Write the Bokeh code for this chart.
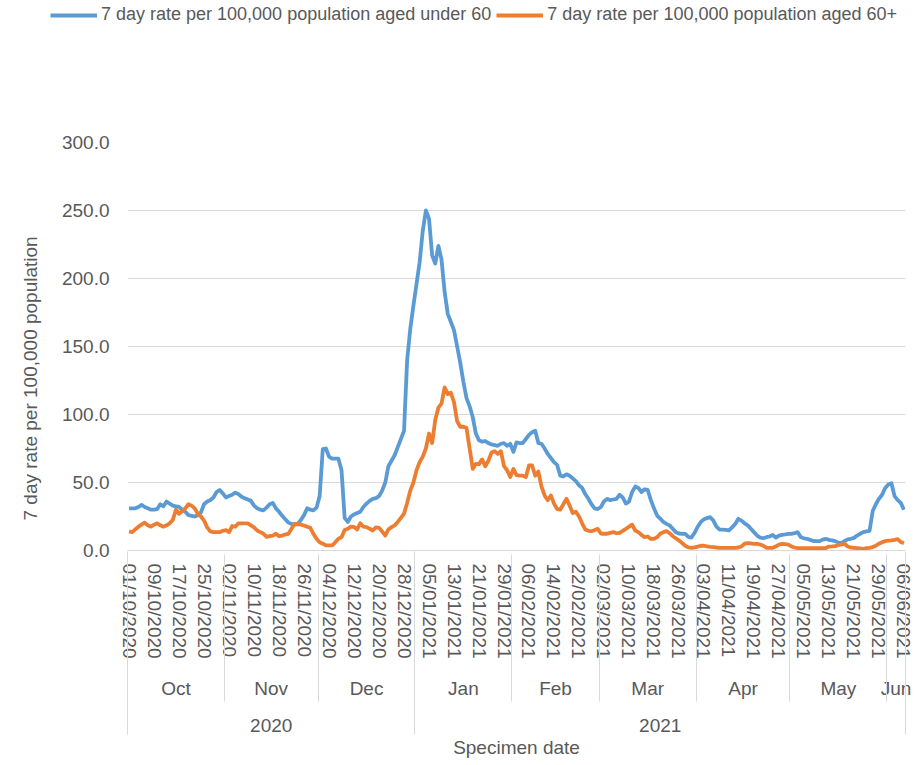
import numpy as np
from bokeh.plotting import figure
from bokeh.layouts import column
from bokeh.models import (Range1d, LinearAxis, FixedTicker, NumeralTickFormatter,
                          Legend, LegendItem, Title, Grid)
from bokeh.embed import file_html
from bokeh.resources import INLINE

# ---------------- data (daily, 01/10/2020 .. 06/06/2021) ----------------
under60 = [
    31, 31, 31, 32, 33.5, 32, 31, 30, 30, 30.5,
    34, 32.5, 36, 34.5, 33, 32.5, 32, 30, 28.5, 26,
    25.5, 25, 26, 28, 34, 36, 37, 39, 43, 44.5,
    42, 39, 40, 41, 42.5, 41.5, 39.5, 38.5, 37.5, 36.5,
    33, 31, 30, 29.5, 31.5, 34, 35, 31, 28.5, 25.5,
    23, 20.5, 19.5, 19, 19.5, 22.5, 26, 31, 30, 29.5,
    31.5, 40, 74.5, 75, 69, 67.5, 67.5, 67.5, 59, 24,
    21, 25, 26.5, 27.5, 28.5, 32, 34.5, 36.5, 38, 38.5,
    40, 44, 50, 62, 66, 70, 76, 82, 88, 140,
    163, 180, 196, 212, 235, 250, 244, 217, 211, 224,
    214, 190, 174, 168, 162, 150, 138, 124, 112, 106,
    98, 86, 81, 80, 80.5, 79, 78, 77.5, 77, 78.5,
    79, 77, 78.5, 72.5, 79.5, 79, 79, 82, 85, 87,
    88, 79, 78.5, 75, 71, 68, 65, 63, 55, 54.5,
    56, 55, 53, 51, 48, 46, 41.5, 38, 34, 31,
    30.5, 32, 36, 38, 37, 37.5, 38, 41, 39, 34.5,
    36, 43, 47, 46, 43, 45, 44.5, 37, 31, 25.7,
    23.5, 21, 19.6, 18.5, 16, 13.5, 12.5, 12.3, 12.2, 10,
    9.5, 13, 17.5, 21, 23, 23.8, 24.5, 22, 17.5, 15.4,
    15.3, 15.2, 14.8, 17, 19.5, 23.3, 22, 20, 18.5, 16,
    13.5, 11, 9.5, 9, 9.8, 10.3, 11.5, 9.5, 11, 11.5,
    11.8, 12.2, 12.3, 12.7, 13.5, 9.8, 9, 8.6, 7.8, 7,
    6.9, 6.9, 8, 8.6, 7.8, 7.5, 6.9, 5.8, 5.4, 7,
    8.2, 8.6, 9.3, 11, 12.3, 13.5, 14, 14.5, 29, 34,
    38, 41, 46, 48.5, 49.5, 40, 37, 35, 30,
]

aged60plus = [
    14, 13.5, 15.5, 17.5, 19, 20.5, 18.5, 17.5, 19, 20,
    18.5, 17.5, 18.5, 20, 22.5, 30, 27, 29, 31, 34,
    33, 31, 27, 25, 22, 17, 14, 13.5, 13.5, 13.5,
    14.5, 15, 13.5, 18, 17.5, 20, 20, 20, 20, 18.5,
    17, 14.7, 13.5, 12.3, 10, 10.5, 11, 12.3, 10.5, 11,
    11.8, 12.3, 16, 19.6, 19.3, 19, 18.4, 17.5, 16.7, 12.3,
    8.6, 6.1, 5, 3.7, 3.7, 3.7, 6, 8.6, 9.8, 15,
    16, 17.5, 17.3, 15.5, 20, 17.5, 17.2, 16, 14.7, 17,
    16.7, 14, 11, 15.5, 17.2, 18.5, 21, 24, 27, 35,
    44, 50, 59, 65, 69, 75, 86, 79, 96, 105,
    108, 120, 115, 116, 109, 95, 91, 91, 90, 75,
    60, 63.7, 63.5, 67, 62, 66, 72, 73, 71, 73,
    62, 59, 54, 60, 55.5, 55, 55, 54, 62.5, 62.5,
    55, 58, 47, 40.5, 37, 40.5, 34.5, 30.5, 30, 34,
    38, 33, 27.5, 28.5, 25, 20, 15.5, 14.5, 14.2, 15,
    15.9, 12.5, 12.3, 12.3, 13, 13.5, 12.7, 13, 14.5, 15.9,
    17.5, 19, 14.7, 13.5, 11.5, 9.8, 10.3, 8.5, 8.5, 9.8,
    12.3, 13.5, 14.2, 12.7, 10.5, 9, 7.3, 5.5, 3.5, 2.3,
    2, 2.3, 2.9, 3.5, 3.5, 3, 2.7, 2.5, 2.2, 2,
    2, 2, 2, 2, 2, 2.2, 3, 5, 5.4, 5.2,
    4.9, 4.9, 4.4, 3.5, 2, 2, 2, 3, 4.4, 4.9,
    4.7, 4.4, 3, 2.2, 1.7, 1.7, 1.7, 1.7, 1.7, 1.7,
    1.7, 1.7, 1.7, 1.8, 2.9, 3, 3.2, 4, 4.5, 4.9,
    3, 2.2, 2, 1.8, 1.5, 1, 1.8, 2, 2.5, 3.5,
    5, 6, 6.9, 7.2, 7.4, 7.8, 8.3, 6.2, 5.4,
]

date_labels = [
    "01/10/2020", "09/10/2020", "17/10/2020", "25/10/2020", "02/11/2020",
    "10/11/2020", "18/11/2020", "26/11/2020", "04/12/2020", "12/12/2020",
    "20/12/2020", "28/12/2020", "05/01/2021", "13/01/2021", "21/01/2021",
    "29/01/2021", "06/02/2021", "14/02/2021", "22/02/2021", "02/03/2021",
    "10/03/2021", "18/03/2021", "26/03/2021", "03/04/2021", "11/04/2021",
    "19/04/2021", "27/04/2021", "05/05/2021", "13/05/2021", "21/05/2021",
    "29/05/2021", "06/06/2021",
]
label_every = 8
month_names = ["Oct", "Nov", "Dec", "Jan", "Feb", "Mar", "Apr", "May", "Jun"]
month_days = [31, 30, 31, 31, 28, 31, 30, 31, 6]
year_names = ["2020", "2021"]
year_days = [92, 157]
y_ticks = [0, 50, 100, 150, 200, 250, 300]

series_names = ["7 day rate per 100,000 population aged under 60",
                "7 day rate per 100,000 population aged 60+"]

assert len(under60) == len(aged60plus) == sum(month_days) == sum(year_days)

# ---------------- styling ----------------
FONT = "Liberation Sans"
TXT = "#595959"
GRID = "#d9d9d9"
BLUE = "#5B9BD5"
ORANGE = "#ED7D31"
FS = "19px"
LW = 3.8

n = len(under60)
x = np.arange(n)

W = 914
LEG_H = 26
H = 763 - LEG_H
TOP = 142 - LEG_H          # frame top inside main figure
BOT = 550 - LEG_H          # frame bottom inside main figure

p = figure(width=W, height=H, output_backend="svg", toolbar_location=None,
           x_range=Range1d(-0.5, n - 0.5), y_range=Range1d(0, 300),
           x_axis_location=None, y_axis_location=None,
           min_border_left=127, min_border_right=W - 905, min_border_top=TOP,
           min_border_bottom=H - BOT)
p.outline_line_color = None
p.background_fill_color = "white"
p.border_fill_color = "white"
p.grid.visible = False

# y axis
yax = LinearAxis(ticker=FixedTicker(ticks=y_ticks),
                 formatter=NumeralTickFormatter(format="0.0"),
                 axis_line_color=None, major_tick_out=0, major_tick_in=0,
                 minor_tick_out=0, minor_tick_in=0,
                 major_label_standoff=18,
                 major_label_text_font=FONT, major_label_text_font_size=FS,
                 major_label_text_color=TXT)
p.add_layout(yax, "left")
p.add_layout(Grid(dimension=1, ticker=yax.ticker, grid_line_color=GRID,
                  grid_line_width=1))

ytitle = Title(text="7 day rate per 100,000 population", align="left",
               vertical_align="top", offset=30, standoff=32,
               text_font=FONT, text_font_size=FS, text_font_style="normal",
               text_color=TXT)
p.add_layout(ytitle, "left")

# category boundaries
mb = np.concatenate([[0], np.cumsum(month_days)]) - 0.5
yb = np.concatenate([[0], np.cumsum(year_days)]) - 0.5
m_centers = [float((mb[i] + mb[i + 1]) / 2) for i in range(len(month_names))]
y_centers = [float((yb[i] + yb[i + 1]) / 2) for i in range(len(year_names))]
day_ticks = list(range(0, n, label_every))

common = dict(major_tick_out=0, major_tick_in=0, minor_tick_out=0,
              major_label_text_font=FONT, major_label_text_font_size=FS,
              major_label_text_color=TXT)

# level 1: dates
axA = LinearAxis(ticker=FixedTicker(ticks=day_ticks, minor_ticks=[]),
                 major_label_overrides={int(t): lab for t, lab in zip(day_ticks, date_labels)},
                 major_label_orientation="vertical",
                 minor_tick_in=0, axis_line_color=GRID,
                 major_label_standoff=13, **common)
p.add_layout(axA, "below")

# level 2: months
axB = LinearAxis(ticker=FixedTicker(ticks=m_centers, minor_ticks=[]),
                 major_label_overrides={c: nm for c, nm in zip(m_centers, month_names)},
                 minor_tick_in=0, axis_line_color=None,
                 major_label_standoff=16, **common)
p.add_layout(axB, "below")

# level 3: years (month separators drawn upward from its top)
axC = LinearAxis(ticker=FixedTicker(ticks=y_centers, minor_ticks=[float(v) for v in mb]),
                 major_label_overrides={c: nm for c, nm in zip(y_centers, year_names)},
                 minor_tick_in=147, minor_tick_line_color=GRID, axis_line_color=None,
                 major_label_standoff=17, **common)
p.add_layout(axC, "below")

# axis title (year separators drawn upward from its top)
axD = LinearAxis(ticker=FixedTicker(ticks=[], minor_ticks=[float(v) for v in yb]),
                 minor_tick_in=183, minor_tick_line_color=GRID, axis_line_color=None,
                 major_label_standoff=0,
                 axis_label="Specimen date", axis_label_standoff=2,
                 axis_label_text_font=FONT, axis_label_text_font_size=FS,
                 axis_label_text_font_style="normal", axis_label_text_color=TXT,
                 **common)
p.add_layout(axD, "below")

# series
r1 = p.line(x, under60, line_width=LW, line_color=BLUE, line_join="round")
r2 = p.line(x, aged60plus, line_width=LW, line_color=ORANGE, line_join="round")

# ---------------- legend strip (separate figure above the chart) ----------------
lf = figure(width=W, height=LEG_H, output_backend="svg", toolbar_location=None,
            x_range=Range1d(0, 1), y_range=Range1d(0, 1),
            x_axis_location=None, y_axis_location=None,
            min_border_left=0, min_border_right=0, min_border_top=0,
            min_border_bottom=0)
lf.outline_line_color = None
lf.grid.visible = False
lf.background_fill_color = "white"
lf.border_fill_color = "white"
# legend keys only (one undefined point each, nothing drawn in the strip)
k1 = lf.line([0.0], [float("nan")], line_width=LW, line_color=BLUE)
k2 = lf.line([0.0], [float("nan")], line_width=LW, line_color=ORANGE)

if "frame_align" in lf.properties():
    lf.frame_align = False
    p.frame_align = False

legend = Legend(items=[LegendItem(label=series_names[0], renderers=[k1]),
                       LegendItem(label=series_names[1], renderers=[k2])],
                orientation="horizontal", location=(50, 1),
                glyph_width=47, glyph_height=20, label_height=20,
                label_standoff=4, spacing=5, padding=0, margin=0,
                border_line_color=None, background_fill_alpha=0,
                label_text_font=FONT, label_text_font_size="18px",
                label_text_color=TXT)
lf.add_layout(legend)

layout = column(lf, p, spacing=0)

with open("out.html", "w") as f:
    f.write(file_html(layout, INLINE))
